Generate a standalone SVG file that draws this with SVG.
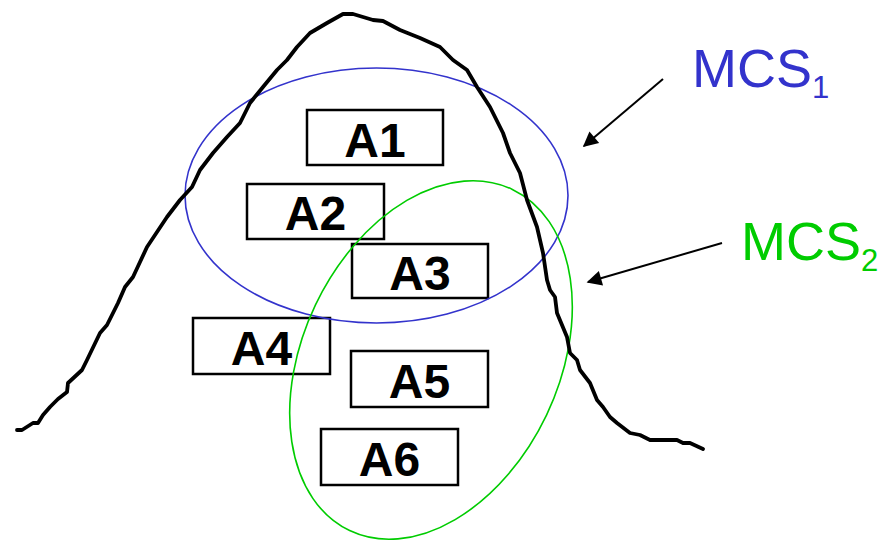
<svg xmlns="http://www.w3.org/2000/svg" width="878" height="542" viewBox="0 0 878 542">
  <style>
    .box rect { fill: #ffffff; stroke: #000000; stroke-width: 2.5; }
    .box text { font-family: "Liberation Sans", Arial, sans-serif; font-weight: bold; font-size: 48px; fill: #000000; text-anchor: middle; }
    .curve { fill: none; stroke: #000000; stroke-width: 3.8; stroke-linejoin: round; stroke-linecap: round; }
    .set { fill: none; stroke-width: 1.6; }
    .lbl { font-family: "Liberation Sans", Arial, sans-serif; font-size: 54px; }
    .sub { font-size: 31px; }
    .arrow { stroke: #000000; stroke-width: 2; fill: none; marker-end: url(#head); }
  </style>
  <defs>
    <marker id="head" viewBox="0 0 10 10" refX="9" refY="5" markerWidth="10" markerHeight="7.5" markerUnits="strokeWidth" orient="auto">
      <path d="M0,0 L10,5 L0,10 z" fill="#000000"/>
    </marker>
  </defs>
  <rect width="878" height="542" fill="#ffffff"/>

  <!-- activity boxes -->
  <g id="A1" class="box"><rect x="307" y="110" width="136" height="55"/><text x="375" y="157">A1</text></g>
  <g id="A2" class="box"><rect x="247" y="184" width="137" height="55"/><text x="315.5" y="230">A2</text></g>
  <g id="A3" class="box"><rect x="352" y="244" width="136" height="54"/><text x="420" y="290">A3</text></g>
  <g id="A4" class="box"><rect x="193" y="318" width="137" height="56"/><text x="261.5" y="365">A4</text></g>
  <g id="A5" class="box"><rect x="351" y="351" width="137" height="56"/><text x="419.5" y="398">A5</text></g>
  <g id="A6" class="box"><rect x="321" y="429" width="137" height="56"/><text x="389.5" y="476">A6</text></g>

  <!-- cut sets -->
  <g id="MCS1">
    <ellipse class="set" cx="376.5" cy="195.5" rx="191.5" ry="127.5" stroke="#3333cc"/>
    <text class="lbl" x="692" y="87" fill="#3333cc">MCS<tspan class="sub" dy="11">1</tspan></text>
  </g>
  <g id="MCS2">
    <ellipse class="set" cx="431" cy="360" rx="128" ry="189" transform="rotate(25.5 431 360)" stroke="#00cc00"/>
    <text class="lbl" x="741" y="260" fill="#00cc00">MCS<tspan class="sub" dy="11">2</tspan></text>
  </g>

  <!-- distribution curve -->
  <path class="curve" d="M17,430 L22,430 L33,423 L38,423 L43,415 L50,407 L58,399 L67,392 L68,383 L82,370 L87,360 L100,333 L107,325 L118,303 L125,287 L133,277 L140,262 L147,247 L157,232 L167,217 L180,200 L192,187 L200,170 L213,153 L227,137 L240,123 L250,103 L263,87 L277,70 L287,60 L297,47 L310,33 L327,23 L343,14 L353,14 L373,20 L383,21 L400,30 L420,38 L440,47 L453,60 L467,70 L477,87 L490,107 L503,133 L510,153 L520,173 L527,200 L537,227 L543,253 L547,280 L550,290 L555,297 L557,313 L567,337 L570,353 L577,360 L580,370 L590,383 L597,400 L603,407 L610,417 L617,423 L630,433 L640,435 L650,440 L677,440 L683,443 L690,443 L703,449"/>

  <!-- pointers -->
  <g id="connectors">
    <line class="arrow" x1="663" y1="79" x2="584" y2="146"/>
    <line class="arrow" x1="722" y1="243" x2="588" y2="282"/>
  </g>
</svg>
